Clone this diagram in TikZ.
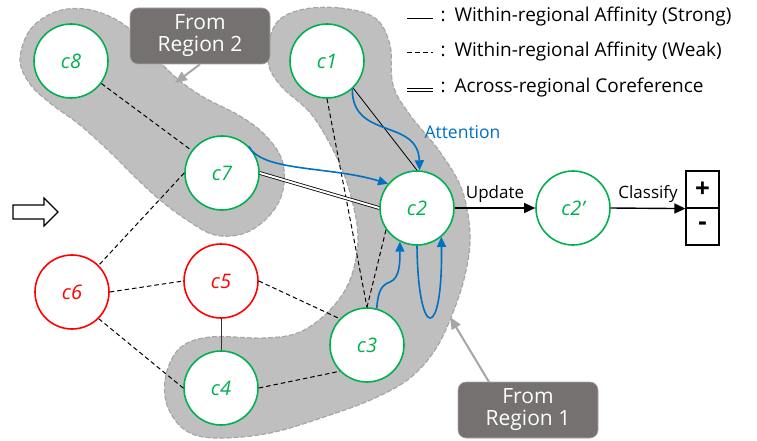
\documentclass[tikz,border=0pt]{standalone}
\usepackage{fontspec}
\setmainfont{Open Sans}
\usetikzlibrary{arrows.meta}
\definecolor{cgreen}{HTML}{00B050}
\definecolor{cred}{HTML}{FF0000}
\definecolor{cblue}{HTML}{0070C0}
\definecolor{blobfill}{HTML}{BFBFBF}
\definecolor{blobline}{HTML}{A6A6A6}
\definecolor{labfill}{HTML}{767171}
\begin{document}
\begin{tikzpicture}[x=1pt,y=-1pt,
  cnode/.style={circle,draw=cgreen,fill=white,line width=1.6pt,minimum size=74pt,inner sep=0pt,text=cgreen,font=\fontsize{20}{22}\selectfont\itshape},
  rnode/.style={cnode,draw=cred,text=cred},
  blob/.style={fill=blobfill,draw=blobline,line width=1.2pt,dash pattern=on 5pt off 2pt},
  weak/.style={line width=1pt,dash pattern=on 4.5pt off 3pt},
  strong/.style={line width=0.8pt},
  coref/.style={double,double distance=2pt,line width=0.8pt},
  att/.style={cblue,line width=1.6pt,-{Triangle[length=10pt,width=9pt]}},
  flow/.style={line width=1.4pt,-{Triangle[length=11pt,width=10pt]}},
  lab/.style={font=\fontsize{17}{20}\selectfont},
  leg/.style={font=\fontsize{19}{22}\selectfont},
  region/.style={fill=labfill,draw=blobline,line width=0.6pt,rounded corners=8pt,text=white,align=center,font=\fontsize{21}{26}\selectfont,minimum width=140pt,minimum height=56pt,inner sep=0pt},
  pointer/.style={blobline,line width=2pt,-{Triangle[length=12pt,width=10pt]}},
  outbox/.style={draw,line width=1.2pt,minimum width=33pt,minimum height=37pt,inner sep=0pt,font=\fontsize{26}{26}\selectfont\bfseries}
]
\useasboundingbox (0,0) rectangle (757,441);

% Region 2 blob
\path[blob] plot[smooth cycle,tension=0.6] coordinates {(20,60) (30,30) (55,12) (85,9) (115,19) (137,36) (158,60) (180,81) (205,98) (240,116) (265,135) (282,160) (283,190) (270,215) (245,233) (215,235) (187,220) (160,200) (135,177) (110,152) (80,125) (50,103) (30,84)};

% Region 1 blob
\path[blob] plot[smooth cycle,tension=0.6] coordinates {(300,10) (340,8) (375,18) (390,45) (393,85) (410,115) (440,152) (462,190) (470,235) (465,275) (452,315) (435,350) (410,378) (375,398) (330,415) (270,433) (215,438) (185,430) (167,405) (166,375) (180,348) (210,337) (265,338) (300,332) (330,310) (350,280) (358,240) (352,200) (338,160) (312,115) (280,85) (268,60) (275,25)};

% nodes
\node[cnode] (c8) at (71,61) {c8};
\node[cnode] (c1) at (327,61) {c1};
\node[cnode] (c7) at (222,173) {c7};
\node[cnode] (c2) at (417,208) {c2};
\node[cnode] (c2p) at (573,208) {c2’};
\node[rnode] (c6) at (72,292) {c6};
\node[rnode] (c5) at (221,281) {c5};
\node[cnode] (c4) at (221,388) {c4};
\node[cnode] (c3) at (367,345) {c3};

% output boxes
\node[outbox] (plus) at (702.5,189.5) {+};
\node[outbox] (minus) at (702.5,226.5) {-};

% edges
\draw[weak] (c8) -- (c7);
\draw[weak] (c7.west) -- (c6.45);
\draw[weak] (c6.east) -- (c5.west);
\draw[weak] (c6.-45) -- (c4.west);
\draw[strong,black!80] (c5.south) -- (c4.north);
\draw[weak] (c5.east) -- (c3.136);
\draw[weak] (c4.east) -- (c3.224);
\draw[weak] (c1.south) -- (c3.north);
\draw[weak] (c3.north) -- (c2.215);
\draw[strong] (c1.-46) -- (c2.north);
\draw[coref] (c7.east) -- (c2.west);

% attention arrows
\draw[att] (c7.45) .. controls (262,172) and (330,166) .. (c2.140);
\draw[att] (c1.-48) .. controls (352,140) and (418,118) .. (c2.86);
\draw[att] (c3.75) .. controls (378,290) and (382,285) .. (390,282) .. controls (400,278) and (400,262) .. (c2.-117);
\draw[att] (c2.-90) .. controls (418,342) and (443,342) .. (c2.-50);
\node[lab,text=cblue,anchor=west,font=\fontsize{17.5}{20}\selectfont] (attn) at (421,132) {Attention};

% update / classify
\draw[flow] (c2.east) -- node[lab,above=1pt] (upd) {Update} (c2p.west);
\draw[flow] (c2p.east) -- node[lab,above=2pt] (cls) {Classify} (plus.south west);

% input arrow
\draw[line width=1.2pt,fill=white] (13,205) -- (44,205) -- (44,198) -- (58,212) -- (44,226) -- (44,219) -- (13,219) -- cycle;

% legend
\coordinate (l1a) at (407,18); \coordinate (l1b) at (433,18);
\coordinate (l2a) at (407,53); \coordinate (l2b) at (433,53);
\coordinate (l3a) at (407,90); \coordinate (l3b) at (433,90);
\draw[strong] (l1a) -- (l1b);
\draw[line width=1pt,dash pattern=on 5pt off 3pt] (l2a) -- (l2b);
\draw[coref] (l3a) -- (l3b);
\node[leg,anchor=west] (t1) at (437,17) {:\hspace{9pt}Within-regional Affinity (Strong)};
\node[leg,anchor=west] (t2) at (437,52) {:\hspace{9pt}Within-regional Affinity (Weak)};
\node[leg,anchor=west] (t3) at (437,88) {:\hspace{9pt}Across-regional Coreference};

% region labels
\node[region] (r2) at (200,36) {From\\[-4pt]Region 2};
\coordinate (r2tip) at (175,83);
\draw[pointer] (r2.south) -- (r2tip);
\node[region] (r1) at (528,410) {From\\[-4pt]Region 1};
\coordinate (r1tip) at (450,317);
\coordinate (r1s) at (489,382);
\draw[pointer] (r1s) -- (r1tip);
\end{tikzpicture}
\end{document}
